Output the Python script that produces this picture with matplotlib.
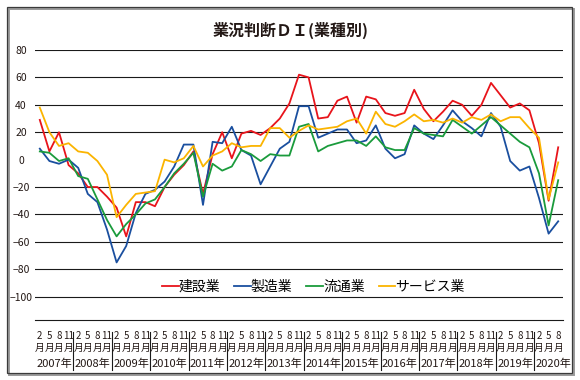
import matplotlib
matplotlib.use('Agg')
from matplotlib import pyplot as plt
from matplotlib.patches import Rectangle
from matplotlib.lines import Line2D

plt.rcParams['font.family'] = ['Noto Sans CJK JP', 'DejaVu Sans']

#' data (quarterly survey, 2007/2 .. 2020/8)
years = ['2007', '2008', '2009', '2010', '2011', '2012', '2013',
         '2014', '2015', '2016', '2017', '2018', '2019', '2020']
months = ['2', '5', '8', '11'] * 13 + ['2', '5', '8']

construction = [29, 6, 20, -4, -10, -20, -20, -27, -35, -56, -31, -31,
                -34, -20, -11, -4, 6, -25, 4, 20, 1, 19, 21, 18,
                23, 30, 41, 62, 60, 30, 31, 43, 46, 27, 46, 44,
                34, 32, 34, 51, 37, 28, 35, 43, 40, 32, 40, 56,
                47, 38, 41, 36, 12, -30, 9]
manufacturing = [8, -1, -3, 0, -6, -25, -31, -51, -75, -63, -39, -25,
                 -22, -16, -5, 11, 11, -33, 13, 12, 24, 7, 3, -18,
                 -5, 8, 13, 39, 39, 16, 19, 22, 22, 12, 14, 25,
                 8, 1, 4, 25, 19, 15, 25, 36, 28, 23, 17, 34,
                 24, -1, -8, -5, -28, -54, -45]
distribution = [6, 5, -1, 1, -12, -14, -29, -44, -56, -47, -40, -32,
                -29, -20, -10, -3, 5, -27, -3, -8, -5, 7, 4, -1,
                4, 3, 3, 24, 26, 6, 10, 12, 14, 14, 10, 17,
                9, 7, 7, 23, 19, 18, 17, 29, 24, 19, 25, 31,
                25, 19, 13, 9, -10, -48, -15]
service = [38, 20, 10, 12, 6, 5, -1, -11, -42, -33, -25, -24,
           -23, 0, -2, 1, 10, -5, 3, 6, 12, 9, 10, 10,
           23, 23, 16, 21, 25, 22, 23, 24, 28, 30, 19, 35,
           26, 24, 28, 33, 28, 29, 27, 30, 27, 31, 29, 33,
           28, 31, 31, 23, 16, -29, -2]

series = [('建設業', construction, '#e8141b'),
          ('製造業', manufacturing, '#1a4f9f'),
          ('流通業', distribution, '#1a9b3c'),
          ('サービス業', service, '#fbb400')]

fig = plt.figure(figsize=(5.8, 3.8), dpi=100)
W, H = 580, 380

#' outer frame with a little shadow
fig.patches.append(Rectangle((8.5 / W, 5.5 / H), 565 / W, 366 / H, transform=fig.transFigure,
                             fill=False, ec='#9a9a9a', lw=1.4))
fig.patches.append(Rectangle((7 / W, 7 / H), 565 / W, 366 / H, transform=fig.transFigure,
                             fill=False, ec='#3a3a3a', lw=0.9))

fig.text(291 / W, 1 - 30 / H, '業況判断ＤＩ(業種別)', ha='center', va='center',
         fontsize=11.5, fontweight='bold', color='#231815')

ax = fig.add_axes([35 / W, 60 / H, 528 / W, 270 / H])
n = len(months)
x = list(range(n))

for lev in [80, 60, 40, 20, -20, -40, -60, -80, -100]:
    ax.axhline(lev, color='#1a1a1a', lw=0.8, zorder=1)

for name, vals, col in series:
    ax.plot(x, vals, color=col, lw=1.3, label=name, zorder=3)

ax.set_xlim(-0.5, n - 0.5)
ax.set_ylim(-117, 80)
for s in ['top', 'left', 'right']:
    ax.spines[s].set_visible(False)
ax.spines['bottom'].set_color('#1a1a1a')
ax.spines['bottom'].set_linewidth(0.8)

ax.set_yticks([80, 60, 40, 20, 0, -20, -40, -60, -80, -100])
ax.tick_params(axis='y', length=0, pad=10, labelsize=7.5, labelcolor='#231815')
for lbl in ax.get_yticklabels():
    lbl.set_horizontalalignment('center')
ax.set_xticks([])

#' month / year labels under the axis
tr = ax.get_xaxis_transform()
for i, m in enumerate(months):
    ax.text(i, -0.058, m, transform=tr, ha='center', va='center', fontsize=7, color='#231815')
    ax.text(i, -0.102, '月', transform=tr, ha='center', va='center', fontsize=7, color='#231815')
for k, yr in enumerate(years):
    ax.text(4 * k + 1.5, -0.162, yr + '年', transform=tr, ha='center', va='center',
            fontsize=8, color='#231815')
    if k > 0:
        ax.add_line(Line2D([4 * k - 0.5] * 2, [-0.044, -0.185], transform=tr,
                           color='#1a1a1a', lw=0.8, clip_on=False))

leg = ax.legend(loc='center', bbox_to_anchor=(0.527, 0.122), ncol=4, frameon=False,
                fontsize=10, handlelength=1.2, handletextpad=0.0, columnspacing=1.0)

fig.savefig('out.png', dpi=100)
